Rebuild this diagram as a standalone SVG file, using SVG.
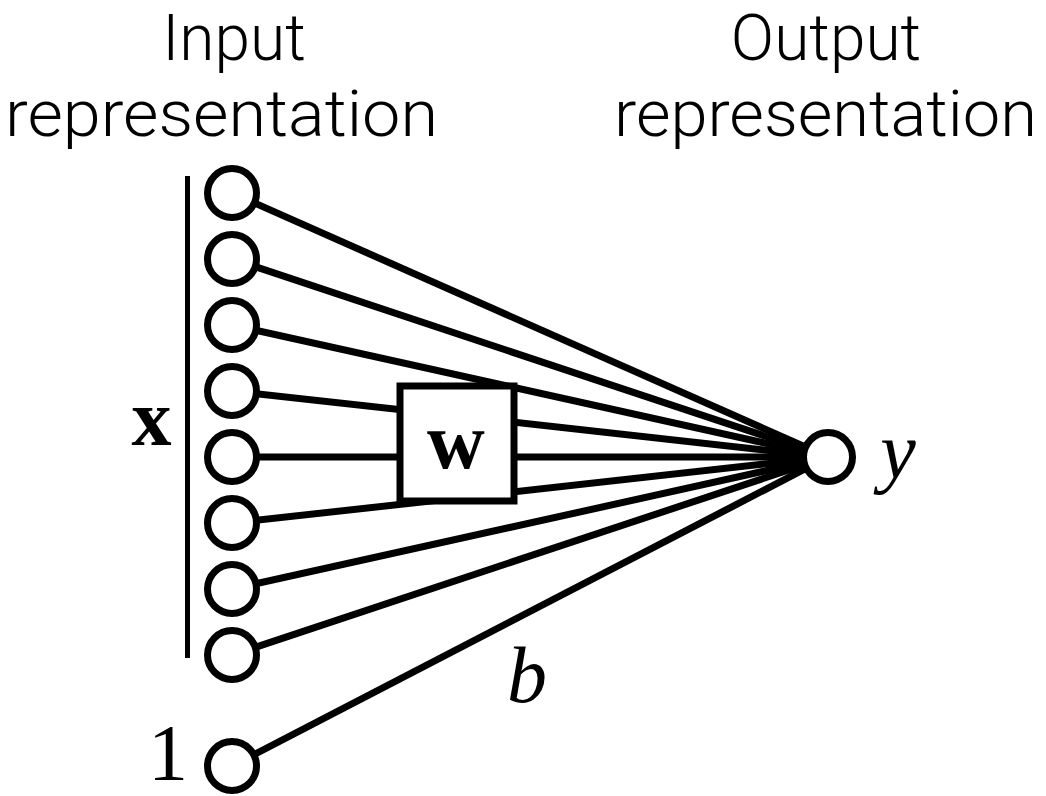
<svg xmlns="http://www.w3.org/2000/svg" width="1046" height="796" viewBox="0 0 1046 796">
<style>
.title{font-family:"Roboto","Liberation Sans",sans-serif;font-weight:300;font-size:64px;fill:#000}
.math{font-family:"Liberation Serif",serif;font-size:80px;fill:#000}
.conn line{stroke:#000;stroke-width:7}
.node{fill:#fff;stroke:#000;stroke-width:7}
</style>
<rect width="1046" height="796" fill="#fff"/>
<text class="title" x="234" y="60" text-anchor="middle">Input</text>
<text class="title" x="5" y="136" textLength="433" lengthAdjust="spacingAndGlyphs">representation</text>
<text class="title" x="826" y="60" text-anchor="middle">Output</text>
<text class="title" x="614" y="136" textLength="423" lengthAdjust="spacingAndGlyphs">representation</text>
<line x1="187.5" y1="176" x2="187.5" y2="658" stroke="#000" stroke-width="5"/>
<text class="math" x="151.5" y="445" font-weight="bold" text-anchor="middle">x</text>
<g id="connectors" class="conn">
<line x1="232" y1="193" x2="828" y2="457"/>
<line x1="232" y1="259" x2="828" y2="457"/>
<line x1="232" y1="325" x2="828" y2="457"/>
<line x1="232" y1="391" x2="828" y2="457"/>
<line x1="232" y1="457" x2="828" y2="457"/>
<line x1="232" y1="523" x2="828" y2="457"/>
<line x1="232" y1="589" x2="828" y2="457"/>
<line x1="232" y1="655" x2="828" y2="457"/>
<line x1="232" y1="766" x2="828" y2="457"/>
</g>
<g id="w-box">
<rect x="400" y="386" width="114" height="115" class="node"/>
<text class="math" x="456" y="468" font-weight="bold" font-size="84" text-anchor="middle">w</text>
</g>
<g id="in1"><circle cx="232" cy="193" r="24.5" class="node"/></g>
<g id="in2"><circle cx="232" cy="259" r="24.5" class="node"/></g>
<g id="in3"><circle cx="232" cy="325" r="24.5" class="node"/></g>
<g id="in4"><circle cx="232" cy="391" r="24.5" class="node"/></g>
<g id="in5"><circle cx="232" cy="457" r="24.5" class="node"/></g>
<g id="in6"><circle cx="232" cy="523" r="24.5" class="node"/></g>
<g id="in7"><circle cx="232" cy="589" r="24.5" class="node"/></g>
<g id="in8"><circle cx="232" cy="655" r="24.5" class="node"/></g>
<g id="bias"><circle cx="232" cy="766" r="24.5" class="node"/><text class="math" x="168" y="780" font-size="74" text-anchor="middle">1</text></g>
<g id="output"><circle cx="828" cy="457" r="24.5" class="node"/><text class="math" x="898" y="478" font-style="italic" text-anchor="middle">y</text></g>
<text class="math" x="527" y="702" font-style="italic" text-anchor="middle">b</text>
</svg>
